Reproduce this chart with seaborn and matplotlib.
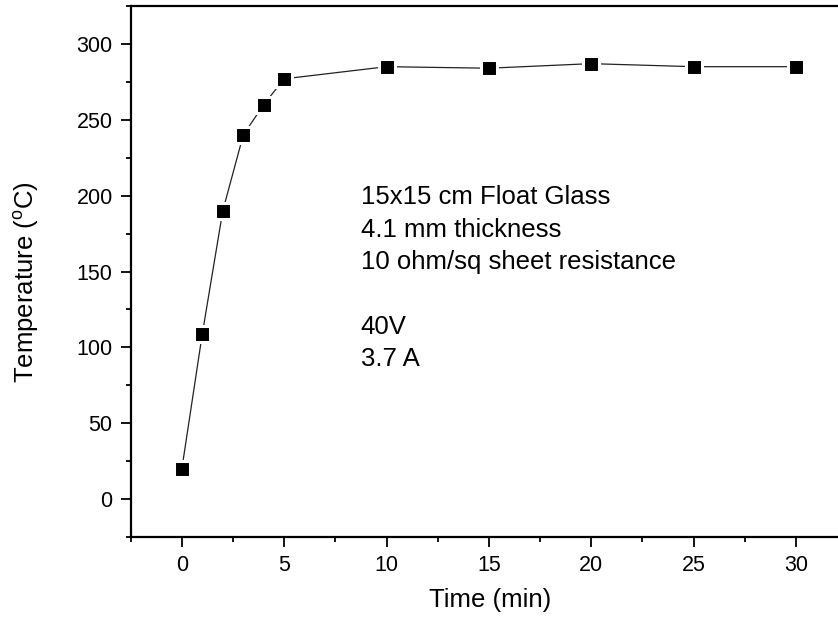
import matplotlib
matplotlib.use("Agg")
import matplotlib.pyplot as plt
import seaborn as sns
import pandas as pd
from matplotlib.ticker import MultipleLocator

time_min = [0, 1, 2, 3, 4, 5, 10, 15, 20, 25, 30]
temperature_c = [20, 109, 190, 240, 260, 277, 285, 284, 287, 285, 285]
x_ticks = [0, 5, 10, 15, 20, 25, 30]
y_ticks = [0, 50, 100, 150, 200, 250, 300]
note_lines = ["15x15 cm Float Glass", "4.1 mm thickness", "10 ohm/sq sheet resistance",
              "", "40V", "3.7 A"]

sns.set_style("ticks")
plt.rcParams['font.family'] = ['Liberation Sans', 'DejaVu Sans']
plt.rcParams['text.color'] = 'black'
plt.rcParams['axes.labelcolor'] = 'black'
plt.rcParams['xtick.color'] = 'black'
plt.rcParams['ytick.color'] = 'black'

W, H = 838, 618
fig = plt.figure(figsize=(W / 100, H / 100), dpi=100)
ax = fig.add_axes([130.7 / W, 81 / H, (847 - 130.7) / W, 531 / H])

df = pd.DataFrame({"Time (min)": time_min, "Temperature": temperature_c})
sns.lineplot(data=df, x="Time (min)", y="Temperature", ax=ax, color="#222222",
             linewidth=0.9, marker="s", markersize=11.2, markerfacecolor="black",
             markeredgecolor="white", markeredgewidth=2.2)

ax.set_xlim(-2.5, 32.5)
ax.set_ylim(-25, 325)
ax.set_xticks(x_ticks)
ax.set_yticks(y_ticks)
ax.xaxis.set_minor_locator(MultipleLocator(2.5))
ax.yaxis.set_minor_locator(MultipleLocator(25))
ax.tick_params(axis="both", which="major", direction="out", length=7.5, width=1.3,
               labelsize=15.5, color="black", labelcolor="black")
ax.tick_params(axis="x", which="major", pad=5.5)
ax.tick_params(axis="y", which="major", pad=5.5)
ax.tick_params(axis="both", which="minor", direction="out", length=3.8, width=1.3, color="black")
ax.tick_params(top=False, right=False, which="both")

for side in ["left", "bottom", "top"]:
    ax.spines[side].set_visible(True)
    ax.spines[side].set_linewidth(1.6)
    ax.spines[side].set_color("black")
ax.spines["right"].set_visible(False)

ax.set_xlabel("Time (min)", fontsize=18.5, color="black")
ax.set_ylabel(r"Temperature ($\mathregular{^{o}}$C)", fontsize=18.5, color="black")
ax.xaxis.set_label_coords((490 - 130.7) / (847 - 130.7), -(600 - 537) / 531)
ax.yaxis.set_label_coords(-(130.7 - 27) / (847 - 130.7), (537 - 282) / 531)
ax.xaxis.label.set_va("center")
ax.yaxis.label.set_va("center")

baselines = [204, 237, 269, 302, 334, 366]
for line, yb in zip(note_lines, baselines):
    if line:
        fig.text(360.7 / W, 1 - yb / H, line, fontsize=18.5, ha="left", va="baseline",
                 color="black")

fig.savefig("out.png", dpi=100)
